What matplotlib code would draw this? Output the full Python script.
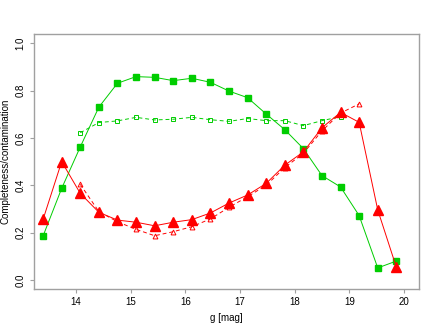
import matplotlib
matplotlib.use("Agg")
import matplotlib.pyplot as plt

plt.rcParams['font.family'] = ['Liberation Sans', 'DejaVu Sans']

# data
mag = [13.40, 13.74, 14.08, 14.42, 14.76, 15.10, 15.44, 15.78, 16.12, 16.46,
       16.80, 17.14, 17.48, 17.82, 18.16, 18.50, 18.84, 19.18, 19.52, 19.86]
completeness = [0.186, 0.387, 0.562, 0.730, 0.831, 0.859, 0.856, 0.842, 0.852, 0.835,
                0.798, 0.770, 0.701, 0.635, 0.555, 0.441, 0.393, 0.272, 0.051, 0.080]
contamination = [0.256, 0.500, 0.366, 0.286, 0.253, 0.244, 0.229, 0.244, 0.255, 0.283,
                 0.325, 0.359, 0.408, 0.485, 0.541, 0.643, 0.708, 0.666, 0.296, 0.054]

mag_alt_c = [14.08, 14.42, 14.76, 15.10, 15.44, 15.78, 16.12, 16.46,
             16.80, 17.14, 17.48, 17.82, 18.16, 18.50, 18.84]
completeness_alt = [0.622, 0.665, 0.672, 0.687, 0.676, 0.679, 0.687, 0.677,
                    0.670, 0.682, 0.673, 0.673, 0.652, 0.673, 0.690]
mag_alt_r = [14.08, 14.42, 14.76, 15.10, 15.44, 15.78, 16.12, 16.46,
             16.80, 17.14, 17.48, 17.82, 18.16, 18.50, 18.84, 19.18]
contamination_alt = [0.404, 0.289, 0.246, 0.214, 0.187, 0.204, 0.225, 0.258,
                     0.307, 0.352, 0.400, 0.475, 0.535, 0.630, 0.705, 0.744]

xticks = [14, 15, 16, 17, 18, 19, 20]
yticks = [0.0, 0.2, 0.4, 0.6, 0.8, 1.0]

green = '#00CD00'
red = '#FF0000'

fig = plt.figure(figsize=(4.36, 3.32), dpi=100)
ax_w = 418.7 - 34
ax_h = 289 - 34
ax = fig.add_axes([34/436, 43/332, ax_w/436, ax_h/332])

ax.plot(mag_alt_c, completeness_alt, color=green, lw=0.7, ls=(0, (4, 3)),
        marker='s', ms=3, mfc='none', mec=green, mew=0.7)
ax.plot(mag_alt_r, contamination_alt, color=red, lw=0.7, ls=(0, (4, 3)),
        marker='^', ms=3.5, mfc='none', mec=red, mew=0.7)
ax.plot(mag, completeness, color=green, lw=0.7, marker='s', ms=5, mfc=green, mec=green)
ax.plot(mag, contamination, color=red, lw=0.7, marker='^', ms=7, mfc=red, mec=red)

ax.set_xlim(13.234, 20.269)
ax.set_ylim(-0.038, 1.039)
ax.set_xticks(xticks)
ax.set_xticklabels([str(t) for t in xticks])
ax.set_yticks(yticks)
ax.set_yticklabels(['%.1f' % t for t in yticks], rotation=90, va='center')

for s in ax.spines.values():
    s.set_color('#a0a0a0')
    s.set_linewidth(1.0)
ax.tick_params(axis='both', colors='#a0a0a0', labelcolor='black', length=3, width=0.8,
               labelsize=7)
ax.tick_params(axis='x', pad=3)
ax.tick_params(axis='y', pad=3)

ax.set_xlabel('g [mag]', fontsize=7, va='center')
ax.xaxis.set_label_coords(0.5, -(318 - 289) / ax_h)
ax.set_ylabel('Completeness/contamination', fontsize=7, va='center')
ax.yaxis.set_label_coords(-(34 - 5.5) / ax_w, 0.5)

fig.savefig('out.png', dpi=100)
